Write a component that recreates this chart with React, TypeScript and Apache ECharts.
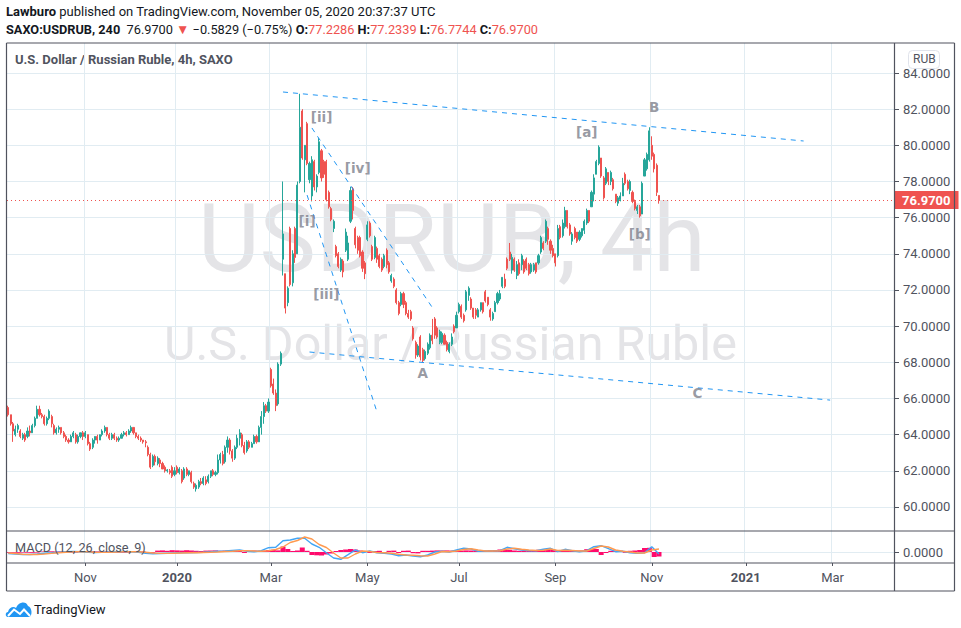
import React, { useEffect, useRef } from 'react';
import * as echarts from 'echarts';

type Bar = [number, number, number, number]; // open, close, low, high

// Sep 2019 - Nov 2019
const barsAutumn2019: Bar[] = [
  [65.5,65.1,65.0,65.6],[65.1,64.6,64.5,65.1],[64.6,64.2,63.6,64.7],[64.0,64.3,63.9,64.5],[64.3,64.5,64.1,64.6],
  [64.2,63.9,63.8,64.3],[63.8,64.0,63.7,64.1],[64.0,63.7,63.6,64.1],[63.9,64.2,63.8,64.4],[64.2,64.1,63.9,64.5],
  [64.1,64.5,64.1,64.6],[64.5,64.9,64.4,65.0],[64.9,65.4,64.9,65.6],[65.4,65.1,65.0,65.6],[65.1,65.0,64.9,65.2],
  [65.0,64.6,64.5,65.1],[64.6,64.9,64.5,65.0],[64.9,65.3,64.8,65.4],[65.0,64.6,64.4,65.1],[64.5,64.1,64.0,64.6],
  [64.1,64.3,64.0,64.4],[64.3,64.4,64.1,64.5],[64.4,64.1,64.0,64.4],[64.1,63.9,63.8,64.2],[63.9,63.7,63.6,64.0],
  [63.7,63.6,63.5,63.8],[63.6,63.9,63.6,64.0],[63.9,64.1,63.8,64.2],[64.0,63.6,63.5,64.1],[63.6,63.9,63.5,64.0],
  [63.9,64.1,63.8,64.1],[64.1,63.9,63.7,64.2],[63.9,64.1,63.8,64.2],[64.0,63.5,63.4,64.0],[63.5,63.2,63.1,63.6],
  [63.3,63.7,63.2,63.8],[63.7,63.9,63.5,63.9],[63.9,63.7,63.5,64.0],[63.7,64.0,63.7,64.0],[64.0,64.2,63.9,64.3],
  [64.2,64.4,64.1,64.5],[64.4,64.0,63.9,64.4],[64.0,63.8,63.7,64.1],[63.8,64.0,63.7,64.1],[64.0,63.8,63.7,64.1],
  [63.8,63.7,63.6,63.9],[63.7,63.8,63.6,63.9],[63.8,64.0,63.8,64.1],[64.0,64.1,63.9,64.2],[64.1,64.0,63.9,64.2],
  [64.0,64.2,64.0,64.3],[64.2,64.4,64.1,64.5],[64.4,64.1,64.0,64.4],[64.1,63.9,63.8,64.1],[63.9,63.8,63.7,64.0],
  [63.8,63.7,63.6,63.9],[63.7,63.6,63.5,63.7],[63.6,63.55,63.3,63.7],
];

// Dec 2019 - Feb 2020
const barsWinter2020: Bar[] = [
  [63.3,62.9,62.8,63.4],[62.9,62.2,62.1,63.0],[62.3,62.8,62.2,62.9],[62.8,62.5,62.3,62.9],[62.4,62.7,62.3,62.8],
  [62.6,62.4,62.2,62.7],[62.4,62.1,62.1,62.5],[62.2,62.0,61.9,62.3],[62.0,62.05,61.9,62.1],[62.0,61.9,61.8,62.1],
  [62.2,61.7,61.6,62.3],[61.8,62.0,61.7,62.2],[62.2,61.9,61.8,62.3],[61.9,62.1,61.8,62.2],[62.0,61.4,61.3,62.1],
  [61.6,62.1,61.5,62.2],[62.1,61.8,61.7,62.2],[61.8,62.0,61.7,62.0],[61.9,61.4,61.3,62.0],[61.3,61.1,61.0,61.4],
  [61.0,61.2,60.85,61.3],[61.1,61.4,61.0,61.5],[61.4,61.3,61.2,61.6],[61.3,61.6,61.2,61.7],[61.5,61.3,61.2,61.7],
  [61.4,61.7,61.3,61.8],[61.7,62.0,61.6,62.0],[62.0,61.8,61.7,62.1],[61.8,61.9,61.7,62.0],[61.9,62.6,61.8,62.9],
  [62.6,62.9,62.4,63.0],[62.9,62.4,62.3,63.1],[62.5,63.3,62.4,63.4],[63.3,63.7,63.0,63.9],[63.7,63.1,62.9,63.8],
  [63.1,62.7,62.5,63.2],[62.7,63.3,62.6,63.4],[63.3,63.8,63.2,64.0],[63.8,64.1,63.4,64.3],[64.0,63.4,63.3,64.1],
  [63.4,63.0,62.9,63.6],[63.1,63.6,63.0,63.7],[63.6,63.3,63.2,63.7],[63.3,63.5,63.3,63.6],[63.5,63.9,63.5,64.0],
  [63.9,63.6,63.5,64.0],[63.6,64.4,63.6,64.5],[64.4,65.0,64.0,65.3],[65.0,65.6,64.6,65.8],[65.6,65.3,65.2,65.7],
  [65.3,65.8,65.2,66.0],[67.6,66.7,66.6,67.7],[66.8,66.3,66.2,67.1],[66.3,65.6,65.3,66.5],[65.7,67.9,65.6,68.0],
  [67.9,68.5,67.8,68.6],
];

// Mar 2020 - Jun 2020
const barsSpring2020: Bar[] = [
  [73.7,75.1,72.8,78.0],[72.9,71.0,70.7,72.9],[71.3,72.1,71.1,72.2],[75.4,72.3,72.2,75.5],[72.4,74.0,72.2,74.2],
  [75.4,73.8,73.5,75.5],[74.0,77.8,74.0,78.0],[78.0,81.0,77.9,82.85],[81.9,79.3,79.2,82.0],[79.2,80.0,77.4,80.0],
  [81.2,79.0,78.9,81.3],[78.1,79.0,77.9,79.1],[77.2,79.2,76.9,79.4],[79.1,77.7,77.5,79.2],[77.7,78.3,77.4,78.4],
  [78.5,80.2,78.4,80.4],[79.7,78.2,78.0,79.8],[79.1,78.4,78.2,79.2],[79.1,77.0,76.9,79.2],[77.4,76.6,76.5,77.5],
  [76.5,75.9,75.8,76.6],[75.4,75.8,75.2,75.9],[74.4,73.9,73.8,74.5],[74.0,73.3,73.2,74.1],[73.1,73.7,73.0,73.8],
  [73.6,73.0,72.7,73.7],[74.2,75.2,74.1,75.4],[73.7,74.6,73.6,75.0],[75.8,77.5,75.7,77.7],[77.6,76.4,75.9,77.7],
  [75.4,74.5,74.3,75.5],[74.9,74.2,74.0,75.0],[74.9,73.9,73.8,75.0],[74.1,73.2,73.0,74.2],[73.5,72.9,72.6,73.6],
  [74.8,75.6,74.7,75.8],[75.7,75.0,74.9,75.8],[74.4,73.7,73.6,74.5],[73.8,74.9,73.7,75.0],[74.3,73.7,73.5,74.4],
  [73.9,73.3,73.2,74.0],[73.7,73.1,73.0,73.8],[73.3,73.9,73.2,74.0],[74.2,73.4,73.2,74.3],[73.5,73.0,72.9,73.6],
  [72.5,72.8,72.4,72.9],[72.6,72.2,72.1,72.7],[72.0,71.3,71.2,72.1],[71.3,70.7,70.6,71.4],[71.2,71.8,71.1,71.9],
  [71.8,71.2,71.0,71.9],[71.3,70.7,70.6,71.4],[70.7,70.5,70.4,70.9],[70.8,70.4,70.3,70.9],[69.9,69.3,69.2,70.0],
  [69.1,68.4,68.2,69.2],[68.4,68.9,68.3,69.0],[69.4,68.3,68.1,69.5],[68.7,68.1,68.0,68.8],[68.2,68.6,68.1,68.7],
  [68.5,69.0,68.4,69.1],[68.8,69.5,68.7,69.6],[69.5,69.2,69.0,70.4],[70.4,69.5,69.3,70.5],[69.9,69.4,69.3,70.0],
  [69.1,69.7,69.0,69.8],[69.1,69.6,69.0,69.7],[69.5,69.0,69.0,69.6],[69.1,68.7,68.6,69.2],[68.6,69.0,68.5,69.1],
  [69.0,69.4,68.9,69.6],[70.0,69.7,69.6,70.1],[69.9,70.6,69.9,70.8],[70.8,71.2,70.7,71.3],
];

// Jul 2020 - Nov 2020
const barsSummer2020: Bar[] = [
  [71.1,70.5,70.4,71.2],[70.6,70.3,70.2,70.7],[70.9,71.9,70.8,72.0],[71.7,72.1,71.4,72.2],[71.5,71.0,70.9,71.6],
  [71.0,70.5,70.4,71.0],[70.9,70.6,70.4,71.0],[70.5,70.9,70.5,71.0],[70.9,71.3,70.8,71.3],[71.3,70.8,70.7,71.3],
  [71.9,71.4,71.3,72.0],[71.6,71.2,71.1,71.6],[70.9,70.5,70.3,71.0],[70.4,70.7,70.3,70.8],[70.8,71.3,70.8,71.4],
  [71.3,71.8,71.2,71.9],[71.5,71.8,71.4,72.0],[72.2,72.7,72.1,72.7],[72.6,72.2,72.1,72.9],[73.7,73.2,73.1,73.8],
  [74.1,73.7,73.6,74.6],[73.1,73.8,72.9,74.0],[73.7,73.1,73.0,73.8],[72.8,73.4,72.6,73.6],[73.5,72.9,72.8,73.7],
  [73.4,73.9,73.1,74.0],[73.6,73.0,72.9,73.7],[73.7,73.2,73.1,73.8],[73.4,72.9,72.8,73.5],[73.0,73.4,72.9,73.5],
  [73.1,73.4,73.0,73.5],[73.5,73.0,72.9,73.5],[73.5,73.9,73.4,74.0],[74.1,74.9,74.0,75.0],[74.6,74.3,74.2,74.7],
  [74.7,75.8,74.6,75.9],[75.4,74.8,74.5,75.5],[74.7,74.2,74.0,74.8],[74.3,73.9,73.8,74.5],[74.0,73.5,73.3,74.0],
  [73.9,75.4,73.8,75.6],[75.5,74.9,74.8,75.6],[75.0,75.7,74.9,75.9],[75.5,76.4,75.4,76.6],[76.4,75.5,75.4,76.4],
  [75.6,75.1,75.0,75.7],[74.7,75.1,74.5,75.2],[75.4,74.9,74.8,75.5],[75.2,74.7,74.6,75.2],[74.8,75.2,74.7,75.3],
  [75.0,75.4,74.9,75.4],[75.3,75.8,75.1,75.9],[75.7,76.4,75.6,76.5],[76.4,75.8,75.7,76.4],[76.6,77.4,76.6,77.5],
  [77.3,78.2,76.9,78.4],[78.4,79.1,78.4,79.2],[79.0,79.9,78.9,80.0],[79.3,78.3,78.2,79.3],[78.2,77.1,77.0,78.3],
  [77.9,78.7,77.8,78.8],[78.5,78.0,77.8,78.5],[78.0,78.5,77.8,78.6],[78.1,77.6,77.5,78.2],[77.3,76.9,76.8,77.3],
  [76.8,77.1,76.65,77.2],[77.0,77.2,76.9,77.4],[77.2,77.9,77.2,78.2],[78.4,77.9,77.8,78.5],[78.0,77.6,77.5,78.1],
  [77.5,78.0,77.3,78.1],[77.4,76.9,76.8,77.5],[76.9,76.5,76.4,77.0],[76.4,76.6,76.2,76.7],[76.6,76.1,76.0,76.7],
  [76.2,77.9,76.2,78.0],[78.3,79.2,78.3,79.3],[78.7,79.5,78.6,79.6],[79.2,80.8,79.1,81.0],[80.0,79.4,79.2,80.5],
  [79.5,78.7,78.5,79.6],[78.9,77.4,77.2,79.0],[77.2286,76.97,76.7744,77.2339],
];

const bars = [...barsAutumn2019, ...barsWinter2020, ...barsSpring2020, ...barsSummer2020];

// time axis has room for bars into 2021
const slotCount = 368;
const timeTicks: Record<number, string> = { 32: 'Nov', 70: '2020', 109: 'Mar', 149: 'May', 187: 'Jul', 227: 'Sep', 267: 'Nov', 306: '2021', 342: 'Mar' };
const slots = Array.from({ length: slotCount }, (_, i) => timeTicks[i] ?? '');

const priceTicks = [60, 62, 64, 66, 68, 70, 72, 74, 76, 78, 80, 82, 84];
const lastPrice = 76.97;

// [slot, price] of each end
const trendLines: [number, number][][] = [
  [[114, 82.95], [330, 80.24]],
  [[125, 68.57], [341, 65.91]],
  [[126, 80.96], [176, 71.02]],
  [[124, 77.25], [153, 65.25]],
];

const waveLabels: [number, number, string][] = [
  [130, 81.57, '[ii]'], [145, 78.75, '[iv]'], [124, 75.81, '[i]'], [132, 71.78, '[iii]'], [172, 67.41, 'A'],
  [240, 80.74, '[a]'], [262, 75.1, '[b]'], [268, 82.12, 'B'], [286, 66.3, 'C'],
];

// macd lines, one reading every 3 slots
const macdLine = [
  -.15,-.2,-.25,-.25,-.2,-.12,-.08,-.03,.02,.05,.03,-.02,-.05,-.03,0,.03,.05,.02,-.03,-.12,
  -.18,-.15,-.12,-.1,-.08,-.07,-.05,-.03,.02,.08,.1,.15,.2,.07,.03,.13,.43,.47,1.13,1.2,
  1.37,1.37,.8,.47,-.07,-.6,-.73,-.27,.2,-.07,.1,-.07,-.13,-.2,-.37,-.3,-.4,-.47,-.3,0,
  .07,0,.2,.37,.3,.07,.1,.1,.13,.47,.33,.2,.13,.13,.27,.37,.03,.27,.13,.03,
  .13,.53,.63,.33,.03,.07,-.07,-.13,-.07,.53,-.2,
];
const signalLine = [
  -.1,-.15,-.22,-.25,-.25,-.2,-.14,-.08,-.03,.02,.04,.02,-.02,-.04,-.03,-.01,.02,.04,.02,-.03,
  -.1,-.14,-.14,-.12,-.1,-.08,-.07,-.05,-.03,0,.05,.08,.12,.14,.1,.08,.12,.25,.5,.95,
  1.15,1.5,1.3,.75,.45,-.1,-.6,-.6,-.2,.1,.05,-.05,-.08,-.13,-.22,-.3,-.32,-.38,-.4,-.2,
  .05,.03,.1,.25,.33,.2,.1,.1,.12,.3,.38,.28,.2,.15,.18,.3,.15,.18,.15,.1,
  .1,.35,.6,.5,.2,.08,0,-.1,-.1,.2,.3,
];
// histogram, one reading every 2 slots
const macdHist = [
  -.08,-.07,-.08,-.06,-.07,-.08,-.06,.05,.06,.07,.05,.06,.05,-.06,-.06,.05,.06,.07,.06,.06,
  .05,.06,-.05,-.07,-.08,-.07,.06,.06,.05,-.06,-.07,.14,.16,.12,.18,.16,.14,.18,.15,.12,
  .1,.14,.15,.16,.12,.14,.16,.12,.12,-.1,.12,.14,.12,.14,.2,.22,.16,.55,.3,.1,
  .15,.45,.12,-.3,-.33,-.35,-.25,-.15,.1,.2,.25,.3,.25,.15,.1,-.1,.1,.12,-.12,.12,
  .14,-.1,.12,.14,-.12,-.14,.12,.12,.14,.16,.15,.16,.14,.12,.14,.16,.15,.14,.12,.14,
  .18,.2,.25,.25,.22,.15,.12,.14,.16,.15,.22,.25,.25,.24,.14,.12,.14,.12,.14,.16,
  .28,.3,.3,-.3,-.1,.12,.14,.12,-.08,.12,.15,.2,.4,.42,-.5,-.45,
];

const UP = '#26a69a';
const DOWN = '#ef5350';
const TEXT = '#50535e';
const GRIDLINE = '#e1ecf2';
const FRAME = '#50535e';
const LINE_BLUE = '#2196f3';
const FONT = 'Roboto, "Open Sans", sans-serif';

echarts.graphic.registerShape(
  'tvLogo',
  echarts.graphic.extendPath('M2 15 C-1 15 -1 10 2 10 C3 5 8 4 10 6 C12 0 20 -2 22 4 C26 5 27 14 23 15 L2 15 Z', {}),
);

const showSlot = (i: number) => !!slots[i];

const App: React.FC = () => {
  const chartRef = useRef<HTMLDivElement>(null);

  useEffect(() => {
    if (!chartRef.current) return;
    document.body.style.margin = '0';

    const chart = echarts.init(chartRef.current, undefined, { renderer: 'svg' });

    const hLine = (x1: number, y1: number, x2: number, y2: number) => ({
      type: 'line',
      z: 20,
      silent: true,
      shape: { x1, y1, x2, y2 },
      style: { stroke: FRAME, lineWidth: 1.2 },
    });

    const option = {
      animation: false,
      backgroundColor: '#fff',
      textStyle: { fontFamily: FONT },
      graphic: [
        // watermark
        {
          type: 'text', left: 198, top: 191, z: -1, silent: true,
          style: { text: 'USDRUB, 4h', fontSize: 95, fontFamily: FONT, fill: '#e4e4e7' },
        },
        {
          type: 'text', left: 164, top: 319, z: -1, silent: true,
          style: { text: 'U.S. Dollar / Russian Ruble', fontSize: 48.5, fontFamily: FONT, fill: '#e4e4e7' },
        },
        // header
        {
          type: 'text', left: 6, top: 5, silent: true,
          style: {
            text: '{b|Lawburo} published on TradingView.com, November 05, 2020 20:37:37 UTC',
            fontSize: 13, fontFamily: FONT, fill: '#131722',
            rich: { b: { fontSize: 13, fontFamily: FONT, fontWeight: 'bold', fill: '#131722' } },
          },
        },
        {
          type: 'text', left: 6, top: 22, silent: true,
          style: {
            text: '{b|SAXO:USDRUB, 240}  76.9700 {t|▼} −0.5829 (−0.75%) {b|O:}{r|77.2286} {b|H:}{r|77.2339} {b|L:}{r|76.7744} {b|C:}{r|76.9700}',
            fontSize: 12.75, fontFamily: FONT, fill: '#131722',
            rich: {
              b: { fontSize: 12.75, fontFamily: FONT, fontWeight: 'bold', fill: '#131722' },
              r: { fontSize: 12.75, fontFamily: FONT, fill: DOWN },
              t: { fontSize: 13.5, fontFamily: FONT, fill: DOWN },
            },
          },
        },
        {
          type: 'text', left: 15, top: 53, silent: true,
          style: { text: 'U.S. Dollar / Russian Ruble, 4h, SAXO', fontSize: 13, fontWeight: 'bold', fontFamily: FONT, fill: TEXT },
        },
        {
          type: 'text', left: 15, top: 541, silent: true, z: 15,
          style: { text: 'MACD (12, 26, close, 9)', fontSize: 12.7, fontFamily: FONT, fill: TEXT },
        },
        // frame
        hLine(6.5, 43, 954.5, 43),
        hLine(6.5, 43, 6.5, 591),
        hLine(954.5, 43, 954.5, 591),
        hLine(6.5, 591, 954.5, 591),
        hLine(894.5, 43, 894.5, 591),
        hLine(6.5, 531, 954.5, 531),
        hLine(6.5, 563, 954.5, 563),
        // currency badge
        {
          type: 'rect', z: 25, silent: true,
          shape: { x: 908.5, y: 50.5, width: 31, height: 18, r: 4 },
          style: { fill: '#fff', stroke: '#e0e3eb', lineWidth: 1 },
        },
        {
          type: 'text', z: 26, left: 913, top: 53, silent: true,
          style: { text: 'RUB', fontSize: 12, fontFamily: FONT, fill: TEXT },
        },
        // footer logo
        {
          type: 'tvLogo', x: 6, y: 602, scaleX: 1, scaleY: 1, silent: true,
          style: { fill: '#2196f3' },
        },
        {
          type: 'polyline', z: 2, silent: true,
          shape: { points: [[8, 616], [14, 609.5], [20, 614], [24, 609.5], [30, 616]] },
          style: { stroke: '#fff', lineWidth: 2, fill: 'none' },
        },
        {
          type: 'text', left: 34, top: 603, silent: true,
          style: { text: 'TradingView', fontSize: 13, fontFamily: FONT, fill: '#131722' },
        },
      ],
      grid: [
        { left: 7, top: 43, width: 887, height: 488 },
        { left: 7, top: 531, width: 887, height: 32 },
      ],
      xAxis: [
        {
          type: 'category', gridIndex: 0, data: slots, boundaryGap: true,
          axisLine: { show: false, onZero: false },
          axisLabel: { show: false },
          axisTick: { show: false, alignWithLabel: true, interval: (i: number) => showSlot(i) },
          splitLine: { show: true, interval: (i: number) => showSlot(i), lineStyle: { color: GRIDLINE, width: 1 } },
        },
        {
          type: 'category', gridIndex: 1, data: slots, boundaryGap: true,
          axisLine: { show: false, onZero: false },
          axisTick: { show: true, alignWithLabel: true, length: 3, interval: (i: number) => showSlot(i), lineStyle: { color: FRAME } },
          axisLabel: {
            show: true,
            interval: (i: number) => showSlot(i),
            margin: 8,
            fontSize: 13,
            fontFamily: FONT,
            hideOverlap: false,
            formatter: (v: string) => (/^\d/.test(v) ? `{y|${v}}` : `{m|${v}}`),
            rich: {
              y: { fontSize: 13, fontFamily: FONT, fontWeight: 'bold', color: TEXT },
              m: { fontSize: 13, fontFamily: FONT, color: TEXT },
            },
          },
          splitLine: { show: true, interval: (i: number) => showSlot(i), lineStyle: { color: GRIDLINE, width: 1 } },
        },
      ],
      yAxis: [
        {
          type: 'value', gridIndex: 0, position: 'right',
          min: 58.67, max: 85.66, scale: true,
          axisLine: { show: false },
          axisTick: { show: true, length: 5, customValues: priceTicks, lineStyle: { color: FRAME } },
          axisLabel: {
            customValues: priceTicks, margin: 9, fontSize: 13, fontFamily: FONT, color: TEXT,
            formatter: (v: number) => v.toFixed(4),
          },
          splitLine: { show: true, lineStyle: { color: GRIDLINE, width: 1 } },
        },
        {
          type: 'value', gridIndex: 1, position: 'right',
          min: -1.1, max: 2.1,
          axisLine: { show: false },
          axisTick: { show: true, length: 5, customValues: [0], lineStyle: { color: FRAME } },
          axisLabel: {
            customValues: [0], margin: 9, fontSize: 13, fontFamily: FONT, color: TEXT,
            formatter: (v: number) => v.toFixed(4),
          },
          splitLine: { show: true, lineStyle: { color: GRIDLINE, width: 1 } },
        },
      ],
      series: [
        {
          name: 'USDRUB',
          type: 'candlestick',
          xAxisIndex: 0,
          yAxisIndex: 0,
          barWidth: 1.6,
          large: false,
          progressive: 0,
          silent: true,
          data: bars,
          itemStyle: { color: UP, color0: DOWN, borderColor: UP, borderColor0: DOWN, borderWidth: 1 },
          markLine: {
            silent: true,
            symbol: 'none',
            animation: false,
            lineStyle: { type: [1, 3], color: DOWN, width: 1 },
            label: {
              position: 'end',
              formatter: () => lastPrice.toFixed(4),
              backgroundColor: DOWN,
              color: '#fff',
              fontSize: 13,
              fontWeight: 'bold',
              fontFamily: FONT,
              padding: [3, 8, 2, 8],
              distance: 0,
            },
            data: [{ yAxis: lastPrice }],
          },
        },
        ...trendLines.map((line) => ({
          type: 'line',
          xAxisIndex: 0,
          yAxisIndex: 0,
          data: line,
          showSymbol: false,
          silent: true,
          z: 5,
          lineStyle: { color: LINE_BLUE, width: 1, type: [5, 5] },
        })),
        {
          type: 'scatter',
          xAxisIndex: 0,
          yAxisIndex: 0,
          silent: true,
          z: 6,
          symbolSize: 1,
          itemStyle: { color: 'transparent' },
          data: waveLabels.map(([slot, price, text]) => ({ value: [slot, price], name: text })),
          label: {
            show: true,
            position: 'inside',
            formatter: (p: { name: string }) => p.name,
            color: '#7d808b',
            fontSize: 13.5,
            fontWeight: 'bold',
            fontFamily: '"DejaVu Sans", sans-serif',
          },
        },
        {
          type: 'bar',
          xAxisIndex: 1,
          yAxisIndex: 1,
          barWidth: 5,
          silent: true,
          itemStyle: { color: '#ff0a6c' },
          data: macdHist.map((v, i) => [i * 2, v]),
        },
        {
          type: 'line',
          xAxisIndex: 1,
          yAxisIndex: 1,
          showSymbol: false,
          silent: true,
          lineStyle: { color: '#42a5f5', width: 1.4 },
          data: macdLine.map((v, i) => [i * 3, v]),
        },
        {
          type: 'line',
          xAxisIndex: 1,
          yAxisIndex: 1,
          showSymbol: false,
          silent: true,
          lineStyle: { color: '#ff9a50', width: 1.4 },
          data: signalLine.map((v, i) => [i * 3, v]),
        },
      ],
    };

    chart.setOption(option as echarts.EChartsOption);

    return () => {
      chart.dispose();
    };
  }, []);

  return <div ref={chartRef} style={{ width: '961px', height: '628px' }} />;
};

export default App;
